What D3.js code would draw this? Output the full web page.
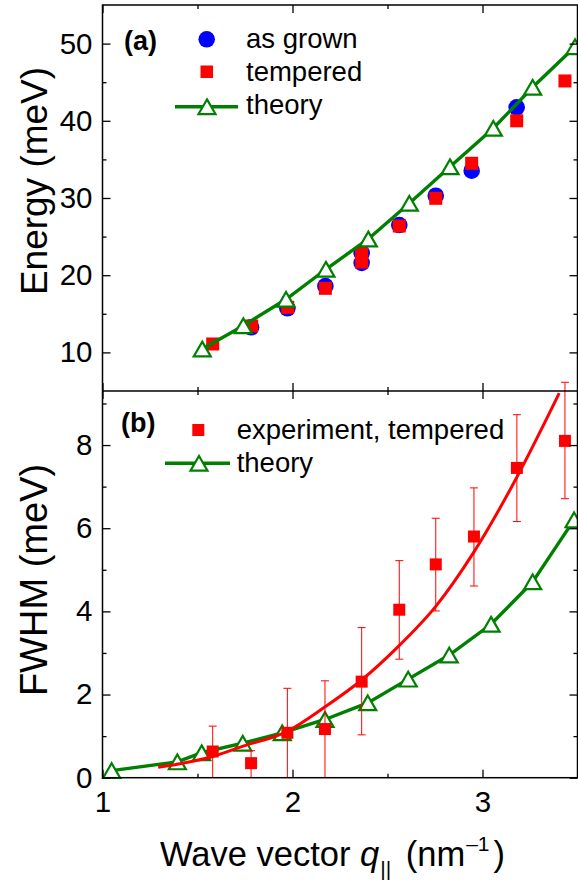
<!DOCTYPE html>
<html>
<head>
<meta charset="utf-8">
<script src="https://cdn.jsdelivr.net/npm/d3@7/dist/d3.min.js"></script>
<style>
  html, body { margin: 0; padding: 0; background: #fff; }
  svg { display: block; font-family: "Liberation Sans", Arial, sans-serif; }
</style>
</head>
<body>
<svg id="chart" width="578" height="882"></svg>
<script>
// ---------- data ----------
// Panel (a): energy
const qTheoryA = [1.525, 1.741, 1.966, 2.176, 2.399, 2.615, 2.829, 3.057, 3.264, 3.487];
const eTheory  = [10.44, 13.46, 16.88, 20.77, 24.69, 29.31, 34.05, 39.03, 44.34, 49.6];
const qGrown   = [1.782, 1.973, 2.173, 2.364, 2.364, 2.562, 2.754, 2.943, 3.180];
const eGrown   = [13.25, 15.71, 18.6, 22.9, 21.6, 26.5, 30.3, 33.54, 41.75];
const qTemp    = [1.580, 1.785, 1.975, 2.173, 2.364, 2.364, 2.562, 2.754, 2.943, 3.180, 3.434];
const eTemp    = [11.09, 13.42, 15.84, 18.3, 22.8, 21.7, 26.37, 29.96, 34.5, 40.0, 45.16];

// Panel (b): FWHM
const qTheoryB = [1.048, 1.394, 1.522, 1.738, 1.946, 2.171, 2.396, 2.609, 2.825, 3.045, 3.264, 3.482];
const fTheory  = [0.17, 0.38, 0.60, 0.83, 1.08, 1.40, 1.80, 2.37, 2.95, 3.69, 4.71, 6.20];
const qExp     = [1.580, 1.782, 1.973, 2.171, 2.364, 2.562, 2.754, 2.955, 3.181, 3.434];
const fExp     = [0.63, 0.35, 1.08, 1.17, 2.31, 4.04, 5.13, 5.80, 7.45, 8.10];
const fExpLow  = [0, 0, 0, 0, 1.03, 2.85, 4.01, 4.61, 6.16, 6.71];
const fExpHigh = [1.24, 0.65, 2.15, 2.33, 3.61, 5.22, 6.24, 6.97, 8.73, 9.51];
const qFit     = [1.293, 1.40, 1.58, 1.74, 1.97, 2.17, 2.364, 2.56, 2.754, 2.951, 3.18, 3.404];
const fFit     = [0.25, 0.33, 0.51, 0.76, 1.11, 1.70, 2.35, 3.17, 4.12, 5.40, 7.22, 9.25];

// ticks
const xTicks = [1, 2, 3];
const xMinor = [1.5, 2.5, 3.5];
const eTicks = [10, 20, 30, 40, 50];
const eMinor = [15, 25, 35, 45];
const fTicks = [0, 2, 4, 6, 8];
const fMinor = [1, 3, 5, 7, 9];

// ---------- layout ----------
const svg = d3.select("#chart");
const GREEN = "#008000", RED = "#ff0000", BLUE = "#0000ff";
const L = 102.5, R = 577.5, TOPA = 5, MID = 391, BOT = 777.7;

const x = d3.scaleLinear().domain([1, 3.5]).range([L, R]);
const yA = d3.scaleLinear().domain([5, 55]).range([MID, TOPA]);
const yB = d3.scaleLinear().domain([0, 9.3]).range([BOT, MID]);

const TICKFONT = 29.5;

function triPath(s) {
  const h = s * 0.866;
  return `M0,${-h/2}L${s/2},${h/2}L${-s/2},${h/2}Z`;
}

function styleAxis(g) {
  g.selectAll(".domain").remove();
  g.selectAll("line").attr("stroke", "#000").attr("stroke-width", 1.3);
  g.selectAll("text").attr("font-size", TICKFONT).attr("fill", "#000")
   .attr("font-family", "'Liberation Sans', Arial, sans-serif");
}

function frame(yScale, yTicks, yMinor, top, bottom, showX) {
  svg.append("g").attr("transform", `translate(${L},0)`)
    .call(d3.axisLeft(yScale).tickValues(yTicks).tickSizeInner(-8).tickSizeOuter(0).tickPadding(10))
    .call(styleAxis);
  svg.append("g").attr("transform", `translate(${L},0)`)
    .call(d3.axisLeft(yScale).tickValues(yMinor).tickSizeInner(-4).tickSizeOuter(0).tickFormat(""))
    .call(styleAxis);
  svg.append("g").attr("transform", `translate(${R},0)`)
    .call(d3.axisRight(yScale).tickValues(yTicks).tickSizeInner(-8).tickSizeOuter(0).tickFormat(""))
    .call(styleAxis);
  svg.append("g").attr("transform", `translate(${R},0)`)
    .call(d3.axisRight(yScale).tickValues(yMinor).tickSizeInner(-4).tickSizeOuter(0).tickFormat(""))
    .call(styleAxis);
  svg.append("g").attr("transform", `translate(0,${top})`)
    .call(d3.axisTop(x).tickValues(xTicks).tickSizeInner(-8).tickSizeOuter(0).tickFormat(""))
    .call(styleAxis);
  svg.append("g").attr("transform", `translate(0,${top})`)
    .call(d3.axisTop(x).tickValues(xMinor).tickSizeInner(-4).tickSizeOuter(0).tickFormat(""))
    .call(styleAxis);
  const gb = svg.append("g").attr("transform", `translate(0,${bottom})`)
    .call(d3.axisBottom(x).tickValues(xTicks).tickSizeInner(-8).tickSizeOuter(0).tickPadding(9)
      .tickFormat(showX ? d3.format("d") : ""))
    .call(styleAxis);
  gb.selectAll("text").attr("dy", "0.85em");
  svg.append("g").attr("transform", `translate(0,${bottom})`)
    .call(d3.axisBottom(x).tickValues(xMinor).tickSizeInner(-4).tickSizeOuter(0).tickFormat(""))
    .call(styleAxis);
}

// ---------- panel (a) ----------
const gA = svg.append("g");
const ptsGrown = qGrown.map((q, i) => [q, eGrown[i]]);
const ptsTemp = qTemp.map((q, i) => [q, eTemp[i]]);
const ptsThA = qTheoryA.map((q, i) => [q, eTheory[i]]);

gA.selectAll("circle.grown").data(ptsGrown).join("circle")
  .attr("cx", d => x(d[0])).attr("cy", d => yA(d[1])).attr("r", 8.3).attr("fill", BLUE);
gA.selectAll("rect.temp").data(ptsTemp).join("rect")
  .attr("x", d => x(d[0]) - 6.5).attr("y", d => yA(d[1]) - 6.5)
  .attr("width", 13).attr("height", 13).attr("fill", RED);
gA.append("path").datum(ptsThA)
  .attr("d", d3.line().x(d => x(d[0])).y(d => yA(d[1])))
  .attr("fill", "none").attr("stroke", GREEN).attr("stroke-width", 3.4);
gA.selectAll("path.triA").data(ptsThA).join("path")
  .attr("transform", d => `translate(${x(d[0])},${yA(d[1])})`)
  .attr("d", triPath(17)).attr("fill", "#fff").attr("stroke", GREEN).attr("stroke-width", 2.2);

// ---------- panel (b) ----------
const gB = svg.append("g");
const ptsThB = qTheoryB.map((q, i) => [q, fTheory[i]]);
const ptsFit = qFit.map((q, i) => [q, fFit[i]]);
const ptsExp = qExp.map((q, i) => ({q, f: fExp[i], lo: fExpLow[i], hi: fExpHigh[i]}));

gB.append("path").datum(ptsThB)
  .attr("d", d3.line().x(d => x(d[0])).y(d => yB(d[1])))
  .attr("fill", "none").attr("stroke", GREEN).attr("stroke-width", 3.4);
gB.selectAll("path.triB").data(ptsThB).join("path")
  .attr("transform", d => `translate(${x(d[0])},${yB(d[1])})`)
  .attr("d", triPath(17)).attr("fill", "#fff").attr("stroke", GREEN).attr("stroke-width", 2.2);

gB.append("path").datum(ptsFit)
  .attr("d", d3.line().curve(d3.curveMonotoneX).x(d => x(d[0])).y(d => yB(d[1])))
  .attr("fill", "none").attr("stroke", RED).attr("stroke-width", 3);

const eb = gB.selectAll("g.eb").data(ptsExp).join("g");
eb.append("line").attr("x1", d => x(d.q)).attr("x2", d => x(d.q))
  .attr("y1", d => yB(d.lo)).attr("y2", d => yB(d.hi))
  .attr("stroke", RED).attr("stroke-width", 1);
eb.append("line").attr("x1", d => x(d.q) - 4).attr("x2", d => x(d.q) + 4)
  .attr("y1", d => yB(d.hi)).attr("y2", d => yB(d.hi))
  .attr("stroke", RED).attr("stroke-width", 1);
eb.filter(d => d.lo > 0).append("line").attr("x1", d => x(d.q) - 4).attr("x2", d => x(d.q) + 4)
  .attr("y1", d => yB(d.lo)).attr("y2", d => yB(d.lo))
  .attr("stroke", RED).attr("stroke-width", 1);
eb.append("rect").attr("x", d => x(d.q) - 6).attr("y", d => yB(d.f) - 6)
  .attr("width", 12).attr("height", 12).attr("fill", RED);

// ---------- frames / axes ----------
frame(yA, eTicks, eMinor, TOPA, MID, false);
frame(yB, fTicks, fMinor, MID, BOT, true);
svg.append("rect").attr("x", L).attr("y", TOPA).attr("width", R - L).attr("height", BOT - TOPA)
  .attr("fill", "none").attr("stroke", "#000").attr("stroke-width", 1.5);
svg.append("line").attr("x1", L).attr("x2", R).attr("y1", MID).attr("y2", MID)
  .attr("stroke", "#000").attr("stroke-width", 1.5);

// ---------- legends ----------
const LEGFONT = 27.5;
function legText(t, lx, ly) {
  svg.append("text").attr("x", lx).attr("y", ly).attr("font-size", LEGFONT).text(t);
}
svg.append("text").attr("x", 124).attr("y", 50).attr("font-size", 27).attr("font-weight", "bold").text("(a)");
svg.append("circle").attr("cx", 206.7).attr("cy", 39.3).attr("r", 8.3).attr("fill", BLUE);
legText("as grown", 246, 48);
svg.append("rect").attr("x", 200.5).attr("y", 65.5).attr("width", 12.5).attr("height", 12.5).attr("fill", RED);
legText("tempered", 246, 81);
svg.append("line").attr("x1", 175).attr("x2", 238).attr("y1", 106.7).attr("y2", 106.7)
  .attr("stroke", GREEN).attr("stroke-width", 3.4);
svg.append("path").attr("transform", "translate(207,106.7)").attr("d", triPath(17))
  .attr("fill", "#fff").attr("stroke", GREEN).attr("stroke-width", 2.2);
legText("theory", 246, 114);

svg.append("text").attr("x", 121).attr("y", 432).attr("font-size", 27).attr("font-weight", "bold").text("(b)");
svg.append("rect").attr("x", 192.3).attr("y", 424).attr("width", 12).attr("height", 12).attr("fill", RED);
legText("experiment, tempered", 236.7, 438.5);
svg.append("line").attr("x1", 165).attr("x2", 230).attr("y1", 463.3).attr("y2", 463.3)
  .attr("stroke", GREEN).attr("stroke-width", 3.4);
svg.append("path").attr("transform", "translate(199,463.3)").attr("d", triPath(17))
  .attr("fill", "#fff").attr("stroke", GREEN).attr("stroke-width", 2.2);
legText("theory", 236.7, 472);

// ---------- axis titles ----------
svg.append("text").attr("transform", "translate(47,181) rotate(-90)")
  .attr("text-anchor", "middle").attr("font-size", 37).text("Energy (meV)");
svg.append("text").attr("transform", "translate(47,580) rotate(-90)")
  .attr("text-anchor", "middle").attr("font-size", 38).text("FWHM (meV)");

const xt = svg.append("text").attr("x", 160).attr("y", 866).attr("font-size", 34.5);
xt.append("tspan").text("Wave vector ");
xt.append("tspan").attr("font-style", "italic").text("q");
xt.append("tspan").attr("font-size", 21).attr("dy", 10).attr("dx", 1).text("||");
xt.append("tspan").attr("dy", -10).attr("dx", 5).text(" (nm");
xt.append("tspan").attr("font-size", 21).attr("dy", -15).attr("dx", 1).text("\u20131");
xt.append("tspan").attr("dy", 15).attr("dx", 4).text(")");
</script>
</body>
</html>
